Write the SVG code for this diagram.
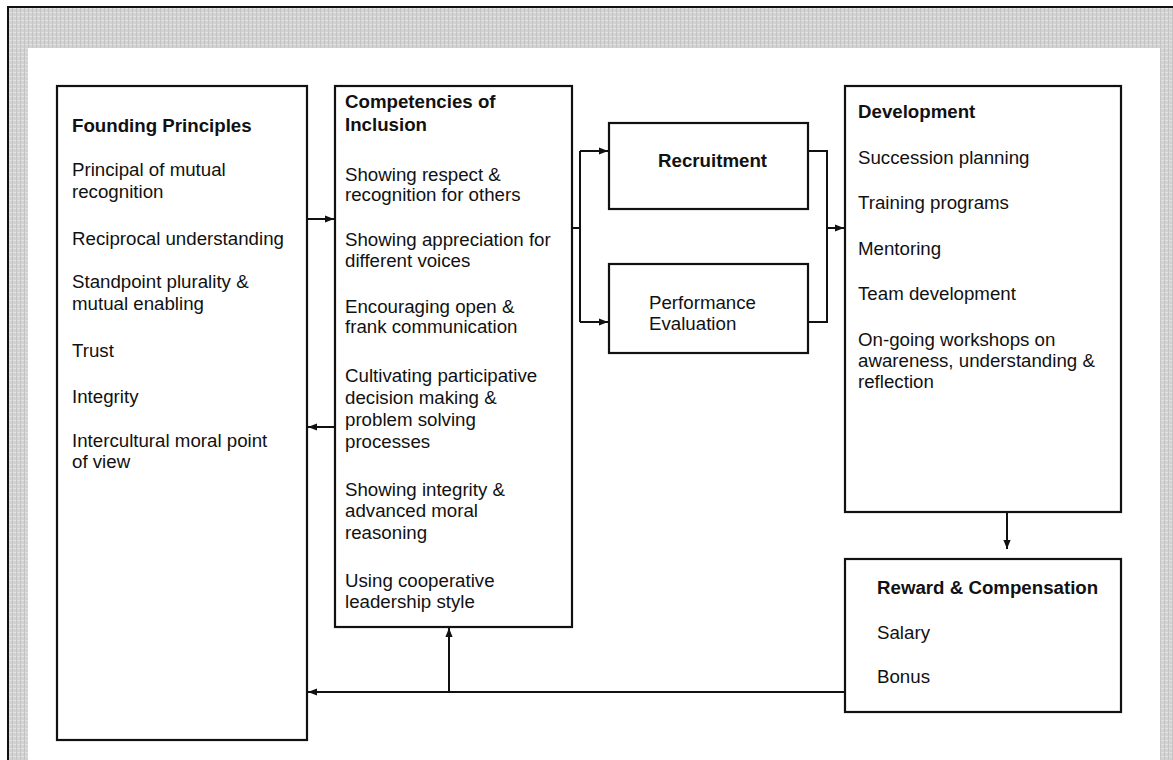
<svg xmlns="http://www.w3.org/2000/svg" width="1173" height="760" viewBox="0 0 1173 760">
<defs>
<pattern id="grid" width="4" height="4" patternUnits="userSpaceOnUse">
<rect width="4" height="4" fill="#d2d2d2"/>
<rect x="0" y="0" width="4" height="1" fill="#e2e2e2"/>
<rect x="0" y="0" width="1" height="4" fill="#c4c4c4"/>
</pattern>
<marker id="arr" viewBox="0 0 10 10" markerUnits="userSpaceOnUse" markerWidth="9" markerHeight="9" refX="10" refY="5" orient="auto">
<path d="M0,1 L10,5 L0,9 z" fill="#111"/>
</marker>
<style>
.box{fill:#fff;stroke:#111;stroke-width:2.2}
.ln{fill:none;stroke:#111;stroke-width:2}
text{font-family:"Liberation Sans",Arial,sans-serif;font-size:18.7px;fill:#111}
.b{font-weight:bold}
</style>
</defs>
<g id="frame">
<rect x="0" y="0" width="1173" height="760" fill="#fff"/>
<rect x="9" y="8" width="1164" height="40" fill="url(#grid)"/>
<rect x="9" y="8" width="19" height="752" fill="url(#grid)"/>
<rect x="1160" y="8" width="13" height="752" fill="url(#grid)"/>
<line x1="7" y1="7" x2="1173" y2="7" stroke="#111" stroke-width="2"/>
<line x1="8" y1="7" x2="8" y2="760" stroke="#111" stroke-width="2"/>
</g>
<g id="founding-principles">
<rect class="box" x="57" y="86" width="250" height="654"/>
<text class="b" x="72" y="132">Founding Principles</text>
<text x="72" y="176">Principal of mutual</text>
<text x="72" y="198">recognition</text>
<text x="72" y="245">Reciprocal understanding</text>
<text x="72" y="288">Standpoint plurality &amp;</text>
<text x="72" y="310">mutual enabling</text>
<text x="72" y="357">Trust</text>
<text x="72" y="403">Integrity</text>
<text x="72" y="447">Intercultural moral point</text>
<text x="72" y="468">of view</text>
</g>
<g id="competencies">
<rect class="box" x="335" y="86" width="237" height="541"/>
<text class="b" x="345" y="108">Competencies of</text>
<text class="b" x="345" y="131">Inclusion</text>
<text x="345" y="181">Showing respect &amp;</text>
<text x="345" y="201">recognition for others</text>
<text x="345" y="246">Showing appreciation for</text>
<text x="345" y="267">different voices</text>
<text x="345" y="313">Encouraging open &amp;</text>
<text x="345" y="333">frank communication</text>
<text x="345" y="382">Cultivating participative</text>
<text x="345" y="404">decision making &amp;</text>
<text x="345" y="426">problem solving</text>
<text x="345" y="448">processes</text>
<text x="345" y="496">Showing integrity &amp;</text>
<text x="345" y="517">advanced moral</text>
<text x="345" y="539">reasoning</text>
<text x="345" y="587">Using cooperative</text>
<text x="345" y="608">leadership style</text>
</g>
<g id="recruitment">
<rect class="box" x="609" y="123" width="199" height="86"/>
<text class="b" x="658" y="167">Recruitment</text>
</g>
<g id="performance-evaluation">
<rect class="box" x="609" y="264" width="199" height="89"/>
<text x="649" y="309">Performance</text>
<text x="649" y="330">Evaluation</text>
</g>
<g id="development">
<rect class="box" x="845" y="86" width="276" height="426"/>
<text class="b" x="858" y="118">Development</text>
<text x="858" y="164">Succession planning</text>
<text x="858" y="209">Training programs</text>
<text x="858" y="255">Mentoring</text>
<text x="858" y="300">Team development</text>
<text x="858" y="346">On-going workshops on</text>
<text x="858" y="367">awareness, understanding &amp;</text>
<text x="858" y="388">reflection</text>
</g>
<g id="reward-compensation">
<rect class="box" x="845" y="559" width="276" height="153"/>
<text class="b" x="877" y="594">Reward &amp; Compensation</text>
<text x="877" y="639">Salary</text>
<text x="877" y="683">Bonus</text>
</g>
<g id="connectors">
<line class="ln" x1="307" y1="219" x2="334" y2="219" marker-end="url(#arr)"/>
<line class="ln" x1="335" y1="427" x2="308" y2="427" marker-end="url(#arr)"/>
<polyline class="ln" points="572,228 580,228"/>
<polyline class="ln" points="580,151 580,322"/>
<line class="ln" x1="580" y1="151" x2="608" y2="151" marker-end="url(#arr)"/>
<line class="ln" x1="580" y1="322" x2="608" y2="322" marker-end="url(#arr)"/>
<polyline class="ln" points="808,151 827,151 827,322 808,322"/>
<line class="ln" x1="827" y1="228" x2="844" y2="228" marker-end="url(#arr)"/>
<line class="ln" x1="1007" y1="512" x2="1007" y2="549" marker-end="url(#arr)"/>
<line class="ln" x1="845" y1="692" x2="308" y2="692" marker-end="url(#arr)"/>
<line class="ln" x1="449" y1="692" x2="449" y2="628" marker-end="url(#arr)"/>
</g>
</svg>
